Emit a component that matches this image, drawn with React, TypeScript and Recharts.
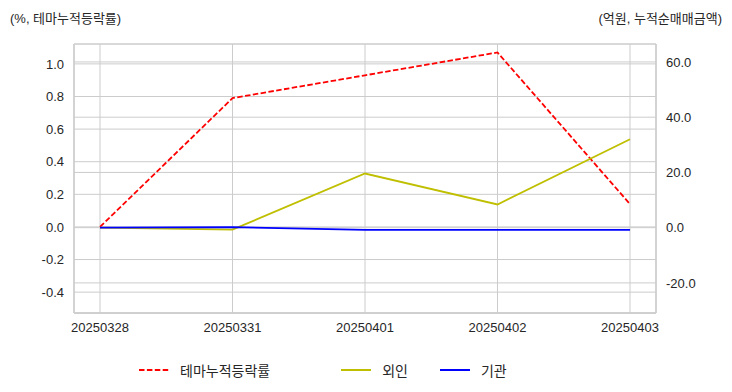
import React from "react";
import {
  LineChart,
  Line,
  XAxis,
  YAxis,
  CartesianGrid,
  Legend,
} from "recharts";

const dates = ["20250328", "20250331", "20250401", "20250402", "20250403"];
const themeReturn = [0.0, 0.79, 0.93, 1.07, 0.14];
const foreign = [0.0, -0.7, 19.6, 8.4, 32.0];
const institution = [0.0, 0.2, -0.8, -0.8, -0.8];

const leftTicks = [-0.4, -0.2, 0.0, 0.2, 0.4, 0.6, 0.8, 1.0];
const rightTicks = [-20, 0, 20, 40, 60];

const data = dates.map((d, i) => ({
  date: d,
  theme: themeReturn[i],
  foreign: foreign[i],
  inst: institution[i],
}));

const FONT = "'Liberation Sans', Arial, 'Noto Sans CJK KR', sans-serif";
const GRID = "#cccccc";
const TEXT = "#262626";

const legendItems = [
  { label: "테마누적등락률", color: "#ff0000", dash: "5.5 2.4", gap: 71 },
  { label: "외인", color: "#bfbf00", dash: undefined, gap: 32 },
  { label: "기관", color: "#0000ff", dash: undefined, gap: 0 },
];

function CustomLegend() {
  return (
    <div
      style={{
        display: "flex",
        alignItems: "center",
        paddingLeft: 139,
        height: 20,
        fontFamily: FONT,
        fontSize: 14,
        color: TEXT,
      }}
    >
      {legendItems.map((it) => (
        <div
          key={it.label}
          style={{ display: "flex", alignItems: "center", marginRight: it.gap }}
        >
          <svg width={30} height={10} style={{ marginRight: 11 }}>
            <line
              x1={0}
              y1={5}
              x2={30}
              y2={5}
              stroke={it.color}
              strokeWidth={2}
              strokeDasharray={it.dash}
            />
          </svg>
          <span>{it.label}</span>
        </div>
      ))}
    </div>
  );
}

export default function App() {
  return (
    <div
      style={{
        position: "relative",
        width: 732,
        height: 392,
        background: "#fff",
        fontFamily: FONT,
      }}
    >
      <style>{`body{margin:0}`}</style>
      <div
        style={{
          position: "absolute",
          left: 10,
          top: 8,
          fontSize: 13,
          color: TEXT,
        }}
      >
        (%, 테마누적등락률)
      </div>
      <div
        style={{
          position: "absolute",
          right: 10,
          top: 8,
          fontSize: 13,
          color: TEXT,
        }}
      >
        (억원, 누적순매매금액)
      </div>
      <LineChart
        width={732}
        height={392}
        data={data}
        margin={{ top: 44, right: 0, bottom: 29, left: 0 }}
      >
        <CartesianGrid
          yAxisId="left"
          stroke={GRID}
          strokeWidth={1}
          horizontal
          vertical
        />
        <CartesianGrid
          yAxisId="right"
          stroke={GRID}
          strokeWidth={1}
          horizontal
          vertical={false}
        />
        <XAxis
          dataKey="date"
          scale="point"
          padding={{ left: 26, right: 26 }}
          height={30}
          tickLine={false}
          axisLine={{ stroke: GRID, strokeWidth: 1.5 }}
          tick={{ fontSize: 13, fill: TEXT, fontFamily: FONT }}
          tickMargin={4}
          interval={0}
        />
        <XAxis
          xAxisId="top"
          dataKey="date"
          orientation="top"
          scale="point"
          padding={{ left: 26, right: 26 }}
          height={0}
          tick={false}
          tickLine={false}
          axisLine={{ stroke: GRID, strokeWidth: 1.5 }}
        />
        <YAxis
          yAxisId="left"
          width={74}
          domain={[-0.528, 1.122]}
          ticks={leftTicks}
          allowDataOverflow
          tickFormatter={(v: number) => v.toFixed(1)}
          tickLine={false}
          axisLine={{ stroke: GRID, strokeWidth: 1.5 }}
          tick={{ fontSize: 13, fill: TEXT, fontFamily: FONT }}
          tickMargin={4}
        />
        <YAxis
          yAxisId="right"
          orientation="right"
          width={76}
          domain={[-30.9, 66.5]}
          ticks={rightTicks}
          allowDataOverflow
          tickFormatter={(v: number) => v.toFixed(1)}
          tickLine={false}
          axisLine={{ stroke: GRID, strokeWidth: 1.5 }}
          tick={{ fontSize: 13, fill: TEXT, fontFamily: FONT }}
          tickMargin={4}
        />
        <Line
          yAxisId="left"
          type="linear"
          dataKey="theme"
          name="테마누적등락률"
          stroke="#ff0000"
          strokeWidth={1.8}
          strokeDasharray="5.5 2.4"
          dot={false}
          isAnimationActive={false}
        />
        <Line
          yAxisId="right"
          type="linear"
          dataKey="foreign"
          name="외인"
          stroke="#bfbf00"
          strokeWidth={1.8}
          dot={false}
          isAnimationActive={false}
        />
        <Line
          yAxisId="right"
          type="linear"
          dataKey="inst"
          name="기관"
          stroke="#0000ff"
          strokeWidth={1.8}
          dot={false}
          isAnimationActive={false}
        />
        <Legend
          content={<CustomLegend />}
          verticalAlign="bottom"
          wrapperStyle={{ left: 0, bottom: 12, width: 732 }}
        />
      </LineChart>
    </div>
  );
}
